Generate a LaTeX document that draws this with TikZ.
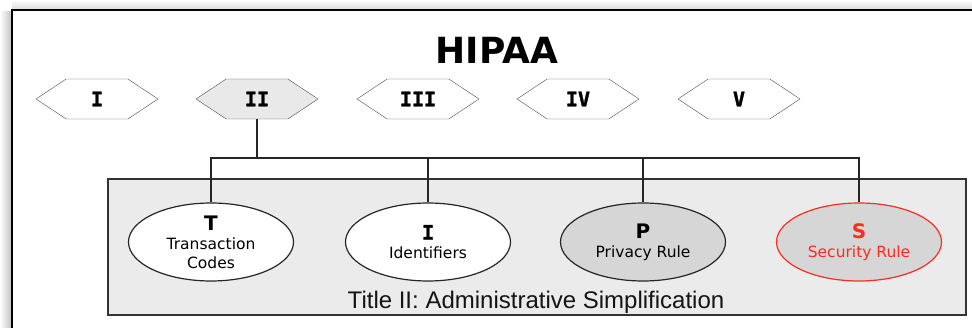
\documentclass[tikz,border=0pt]{standalone}
\usepackage{fontspec}
\setmainfont{DejaVu Sans}
\setsansfont{Liberation Sans}
\newfontfamily\hexfont{DejaVu Sans Mono}[BoldFeatures={FakeBold=1.6}]
\usetikzlibrary{shapes.geometric, shapes.symbols, positioning, calc}
\definecolor{cBox}{RGB}{235,235,235}
\definecolor{cHex}{RGB}{233,233,233}
\definecolor{cOval}{RGB}{214,214,214}
\definecolor{cRed}{RGB}{250,45,30}
\newcommand\ltrfont{\bfseries\fontsize{20}{22}\selectfont}

\begin{document}
\begin{tikzpicture}[x=1pt, y=-1pt,
            hx/.style={signal, signal to=east and west, signal pointer angle=67, draw=black!70,
              minimum width=122pt, minimum height=40pt, inner sep=0pt,
              font=\hexfont\bfseries\fontsize{20}{22}\selectfont},
            ov/.style={ellipse, draw=black!85, line width=1.2pt, minimum width=165pt, minimum height=78pt,
              inner sep=0pt, align=center, font=\fontsize{15.5}{19}\selectfont},
            ed/.style={draw=black!85, line width=1.2pt}]
            \useasboundingbox (0,0) rectangle (972,328);
            % frame with soft shadow
            \shade[left color=white, right color=black!25] (0,12) rectangle (12,328);
            \shade[top color=white, bottom color=black!15] (12,0) rectangle (972,10);
            \draw[line width=1.5pt] (12,335) -- (12,10) -- (980,10);
            \node[font=\bfseries\fontsize{36}{40}\selectfont] (title) at (497,50) {HIPAA};
            \node[hx, fill=white] (h1) at (97,99)  {I};
            \node[hx, fill=cHex]  (h2) at (257,99) {II};
            \node[hx, fill=white] (h3) at (418,99) {III};
            \node[hx, fill=white] (h4) at (578,99) {IV};
            \node[hx, fill=white] (h5) at (739,99) {V};
            % title II group
            \node[draw=black!80, line width=1.2pt, fill=cBox, minimum width=858pt, minimum height=136pt, inner sep=0pt] (box) at (537,247) {};
            \node[font=\sffamily\fontsize{24}{26}\selectfont, text=black!92] (boxlbl) at (536,302) {Title II: Administrative Simplification};
            \node[ov, fill=white] (oT) at (211,242) {{\ltrfont T}\\Transaction\\Codes};
            \node[ov, fill=white] (oI) at (428,242) {{\hexfont\bfseries\fontsize{20}{22}\selectfont I}\\Identifiers};
            \node[ov, fill=cOval] (oP) at (643,242) {{\ltrfont P}\\Privacy Rule};
            \node[ov, fill=cOval, draw=cRed, text=cRed] (oS) at (859,242) {{\ltrfont S}\\Security Rule};
            \coordinate (bus) at (257,158);
            \draw[ed] (h2.south) -- (bus);
            \draw[ed] (oT.north) -- (oT.north |- bus) -- (oS.north |- bus) -- (oS.north);
            \draw[ed] (oI.north) -- (oI.north |- bus);
            \draw[ed] (oP.north) -- (oP.north |- bus);
        \end{tikzpicture}
\end{document}
